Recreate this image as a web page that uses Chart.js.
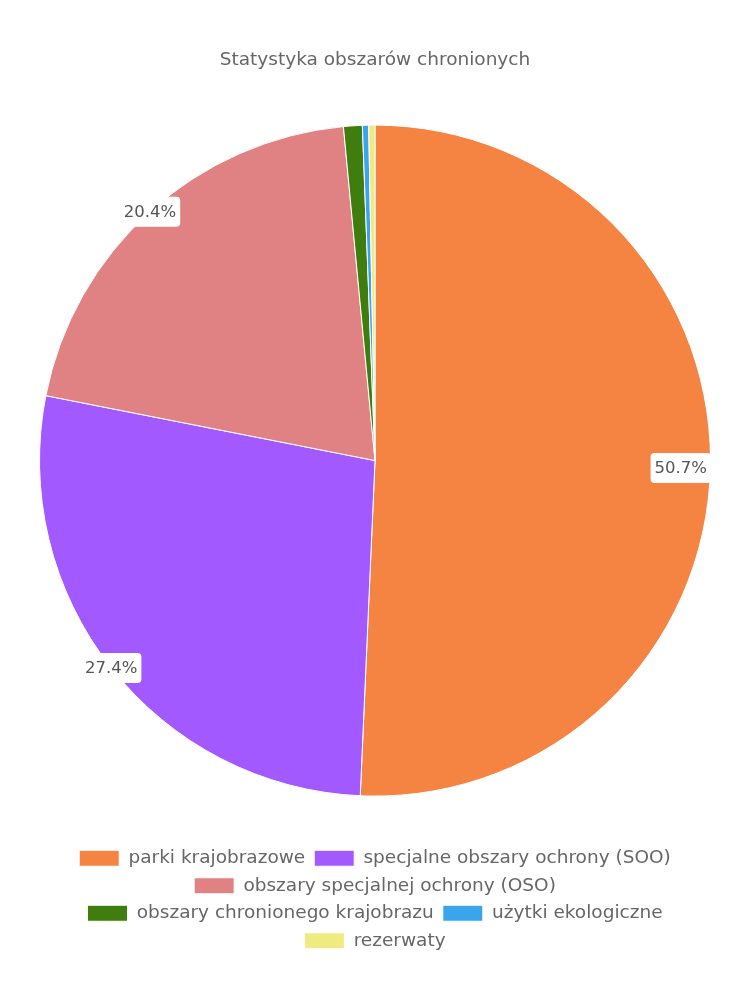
<!DOCTYPE html>
<html>
<head>
<meta charset="utf-8">
<script src="https://cdn.jsdelivr.net/npm/chart.js@4"></script>
<style>
  body { margin: 0; background: #fff; }
  #wrap { width: 750px; height: 1000px; }
</style>
</head>
<body>
<div id="wrap"><canvas id="myChart"></canvas></div>
<script>
const labels = ['parki krajobrazowe', 'specjalne obszary ochrony (SOO)', 'obszary specjalnej ochrony (OSO)', 'obszary chronionego krajobrazu', 'użytki ekologiczne', 'rezerwaty'];
const values = [50.7, 27.4, 20.4, 0.9, 0.3, 0.3];
const colors = ['#F58442', '#A259FF', '#E08283', '#3E7D0E', '#3AA5ED', '#F0EB80'];

const fontFamily = '"DejaVu Sans", sans-serif';

const edgeLabels = {
    id: 'edgeLabels',
    afterDatasetsDraw(chart) {
        const c = chart.ctx;
        const area = chart.chartArea;
        const meta = chart.getDatasetMeta(0);
        const total = values.reduce((a, b) => a + b, 0);
        c.save();
        c.font = '16.5px ' + fontFamily;
        c.textAlign = 'center';
        c.textBaseline = 'middle';
        meta.data.forEach((arc, i) => {
            const pct = values[i] / total * 100;
            if (pct < 5) return;
            const p = arc.getProps(['x', 'y', 'startAngle', 'endAngle', 'outerRadius'], true);
            const mid = (p.startAngle + p.endAngle) / 2;
            const txt = pct.toFixed(1) + '%';
            const w = c.measureText(txt).width + 8;
            const h = 30;
            let x = p.x + Math.cos(mid) * p.outerRadius;
            let y = p.y + Math.sin(mid) * p.outerRadius;
            x = Math.min(Math.max(x, area.left + w / 2), area.right - w / 2);
            y = Math.min(Math.max(y, area.top + h / 2), area.bottom - h / 2);
            c.fillStyle = '#fff';
            c.beginPath();
            c.roundRect(x - w / 2, y - h / 2, w, h, 4);
            c.fill();
            c.fillStyle = '#555';
            c.fillText(txt, x, y + 1);
        });
        c.restore();
    }
};

new Chart(document.getElementById('myChart'), {
    type: 'pie',
    data: {
        labels: labels,
        datasets: [{
            data: values,
            backgroundColor: colors,
            borderColor: '#fff',
            borderWidth: 1
        }]
    },
    options: {
        responsive: true,
        maintainAspectRatio: false,
        animation: false,
        layout: { padding: { top: 0, bottom: 40, left: 39, right: 39 } },
        plugins: {
            title: {
                display: true,
                text: 'Statystyka obszarów chronionych',
                color: '#666',
                font: { family: fontFamily, size: 18.5, weight: 'normal' },
                padding: { top: 49, bottom: 10 }
            },
            legend: {
                position: 'bottom',
                labels: {
                    color: '#666',
                    font: { family: fontFamily, size: 18.5 },
                    boxWidth: 40,
                    boxHeight: 16,
                    padding: 9
                }
            },
            tooltip: { enabled: false }
        }
    },
    plugins: [edgeLabels]
});
</script>
</body>
</html>
